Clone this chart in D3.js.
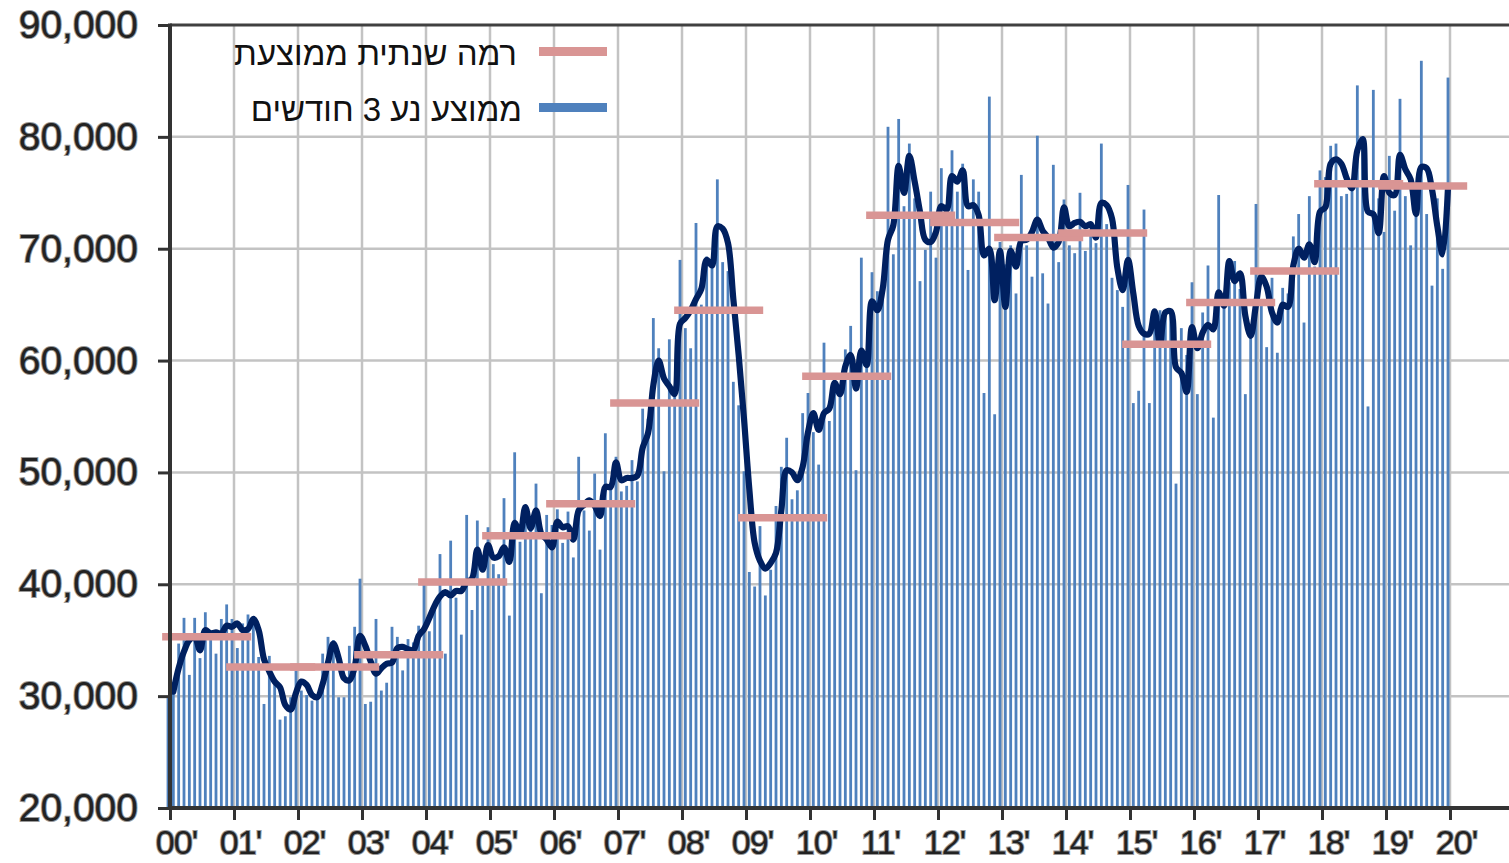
<!DOCTYPE html>
<html>
<head>
<meta charset="utf-8">
<script src="https://cdnjs.cloudflare.com/ajax/libs/d3/7.8.5/d3.min.js"></script>
<style>
    body { margin: 0; background: #fff; }
    svg text { font-family: "Liberation Sans", Arial, sans-serif; }
</style>
</head>
<body>
<svg id="chart" width="1509" height="863"></svg>
<script>

// year tick labels 2000..2020
var yearLabels = ["00'", "01'", "02'", "03'", "04'", "05'", "06'", "07'", "08'", "09'",
    "10'", "11'", "12'", "13'", "14'", "15'", "16'", "17'", "18'", "19'", "20'"];

// annual average level, 2000..2019
var annualAvg = [35300, 32600, 32600, 33700, 40200, 44350, 47200, 56200, 64500, 45950,
    58600, 73000, 72350, 71000, 71400, 61450, 65200, 68000, 75800, 75600];

// monthly values, Jan 2000 .. Jan 2020 (one row per year)
var monthly = [
    30000, 30400, 34700, 37000, 31900, 37000, 33400, 37500, 35900, 33800, 36900, 38200,
    36900, 34300, 36500, 37300, 36900, 33500, 29300, 33600, 31000, 27900, 28200, 29900,
    32300, 30500, 30100, 29600, 29900, 33800, 35300, 35000, 29900, 29900, 34500, 36200,
    40500, 29300, 29500, 36900, 30500, 31200, 36200, 35300, 32300, 35100, 34800, 36300,
    40000, 35800, 38400, 42700, 33800, 43900, 38800, 35500, 46200, 37700, 45700, 39900,
    45100, 41800, 40900, 47700, 37200, 51800, 43800, 45600, 44900, 49000, 39200, 46200,
    45300, 46700, 43700, 46500, 42400, 51400, 46600, 44800, 49900, 43100, 53500, 48800,
    51400, 48300, 48800, 51100, 49200, 55700, 54800, 63800, 61100, 50100, 61900, 57700,
    69000, 62900, 61100, 72300, 65000, 69300, 68500, 76200, 68800, 68000, 58100, 56000,
    50100, 41100, 39800, 45200, 39000, 41300, 47000, 50500, 53100, 47600, 48400, 55300,
    57100, 53600, 50700, 61600, 54600, 58500, 57000, 61000, 63100, 50200, 69200, 59500,
    67900, 66200, 65900, 80900, 69500, 81600, 73800, 79400, 74500, 67100, 69900, 75100,
    69200, 77200, 74000, 78800, 75100, 77600, 68100, 76200, 75100, 57100, 83600, 55200,
    70600, 68600, 70300, 66000, 76600, 70300, 67500, 80100, 67800, 65100, 77500, 68800,
    74400, 70300, 69600, 75000, 69800, 71700, 70500, 79400, 72200, 67400, 66300, 64800,
    75700, 56200, 57300, 73500, 56200, 64400, 64500, 64500, 64200, 49000, 62900, 60500,
    67000, 57000, 64300, 68500, 54900, 74800, 64900, 67000, 68900, 66400, 57000, 62500,
    74000, 65500, 61200, 67400, 60700, 66500, 66000, 71100, 73100, 63400, 74700, 68400,
    77000, 76400, 79200, 79400, 74700, 74900, 75300, 84600, 79300, 55900, 84200, 74500,
    71500, 78300, 73400, 83400, 74700, 70300, 74000, 86800, 73100, 66700, 74500, 68200,
    85300
];

// 3 month moving average, Feb 2000 .. Jan 2020
var movingAvg = [
    30400, 32500, 34000, 35000, 35300, 34100, 35900, 35600, 35700, 35600, 36300,
    36200, 36500, 35900, 36000, 36900, 35900, 33300, 32200, 31300, 30800, 29200, 28800,
    30300, 31300, 31000, 30100, 29900, 31100, 33000, 34700, 33400, 31600, 31400, 32600,
    35400, 34500, 33100, 32000, 32500, 32900, 33000, 34300, 34400, 34200, 34100, 35400,
    36000, 37000, 38100, 38900, 39300, 39000, 39400, 39400, 40200, 40500, 43100, 41300,
    43500, 42400, 42500, 43300, 42000, 45500, 44500, 46900, 45000, 46600, 44500, 44000,
    43300, 45600, 45100, 45200, 44000, 46600, 47100, 47500, 47000, 46100, 48700, 48700,
    50900, 49300, 49500, 49500, 49700, 52200, 53500, 57800, 60000, 58400, 57700, 57000,
    63300, 63800, 64500, 65500, 66400, 69000, 68500, 72000, 71800, 70500, 65500, 60500,
    54800, 48500, 43700, 42100, 41400, 41900, 42800, 46600, 50200, 50000, 49300, 50500,
    53600, 55300, 53800, 55300, 55700, 58000, 57000, 59500, 60500, 57500, 60900, 59600,
    65300, 64500, 66400, 70800, 72100, 77400, 75000, 78300, 76000, 73300, 70800, 70600,
    71500, 73800, 73500, 76500, 76000, 77000, 73800, 73900, 73000, 69400, 70000, 65400,
    69800, 64800, 69800, 68400, 70700, 70800, 71500, 72600, 71600, 71000, 70100, 70600,
    73700, 72000, 72300, 72400, 72000, 72200, 71000, 74100, 73900, 72700, 68300, 66300,
    69000, 66000, 63100, 62400, 62400, 64400, 61500, 64300, 64400, 59400, 58900, 57200,
    63000, 61100, 62500, 63200, 62800, 66100, 64900, 68900, 67100, 67800, 64000, 62200,
    65000, 67500, 66600, 64300, 63400, 65000, 64800, 68500, 70000, 69200, 70400, 68800,
    73300, 73700, 77600, 78000, 77600, 76300, 75400, 78800, 79800, 73300, 73100, 71400,
    76500, 75000, 74800, 78400, 77100, 76200, 73100, 77300, 77200, 75300, 72000, 69500,
    75500
];

var legendLabels = ["רמה שנתית ממוצעת", "ממוצע נע 3 חודשים"];
var yTicks = [20000, 30000, 40000, 50000, 60000, 70000, 80000, 90000];

// set the dimensions of the graph
var width = 1509,
    height = 863,
    plotLeft = 170,
    plotTop = 25,
    plotBottom = 808;

var svg = d3.select("#chart");

// set the ranges
var x = d3.scaleLinear().domain([0, 240]).range([168, 1448]);   // month index
var xYear = d3.scaleLinear().domain([0, 20]).range([170, 1450]); // year ticks
var y = d3.scaleLinear().domain([20000, 90000]).range([plotBottom, plotTop]);

// gridlines
svg.append("g")
    .selectAll("line")
    .data(yTicks.slice(1, -1))
    .join("line")
    .attr("x1", plotLeft)
    .attr("x2", width)
    .attr("y1", function(d) { return y(d); })
    .attr("y2", function(d) { return y(d); })
    .style("stroke", "#c3c3c3")
    .style("stroke-width", 2.5);

svg.append("g")
    .selectAll("line")
    .data(d3.range(1, 21))
    .join("line")
    .attr("x1", function(d) { return xYear(d); })
    .attr("x2", function(d) { return xYear(d); })
    .attr("y1", plotTop)
    .attr("y2", plotBottom)
    .style("stroke", "#c3c3c3")
    .style("stroke-width", 2.5);

// monthly bars
svg.append("g")
    .selectAll("rect")
    .data(monthly)
    .join("rect")
    .attr("x", function(d, i) { return x(i) - 1.4; })
    .attr("width", 2.8)
    .attr("y", function(d) { return y(d); })
    .attr("height", function(d) { return plotBottom - y(d); })
    .style("fill", "#4f81bd");

// moving average line
var valueline = d3.line()
    .x(function(d, i) { return x(i + 1); })
    .y(function(d) { return y(d); })
    .curve(d3.curveCatmullRom);

svg.append("path")
    .datum(movingAvg)
    .attr("d", valueline)
    .style("fill", "none")
    .style("stroke", "#002060")
    .style("stroke-width", 6.2)
    .style("stroke-linejoin", "round")
    .style("stroke-linecap", "round");

// annual average segments
svg.append("g")
    .selectAll("line")
    .data(annualAvg)
    .join("line")
    .attr("x1", function(d, k) { return x(12 * k - 1.1); })
    .attr("x2", function(d, k) { return x(12 * k + 15.6); })
    .attr("y1", function(d) { return y(d); })
    .attr("y2", function(d) { return y(d); })
    .style("stroke", "#d99594")
    .style("stroke-width", 7.5);

// frame: top border and axes
svg.append("line")
    .attr("x1", plotLeft).attr("x2", width)
    .attr("y1", plotTop).attr("y2", plotTop)
    .style("stroke", "#404040").style("stroke-width", 3);

var xAxis = svg.append("g")
    .attr("transform", "translate(0," + plotBottom + ")")
    .call(d3.axisBottom(xYear)
        .tickValues(d3.range(0, 21))
        .tickFormat(function(d) { return yearLabels[d]; })
        .tickSize(12)
        .tickPadding(10));

var yAxis = svg.append("g")
    .attr("transform", "translate(" + plotLeft + ",0)")
    .call(d3.axisLeft(y)
        .tickValues(yTicks)
        .tickFormat(d3.format(","))
        .tickSize(12)
        .tickPadding(20));

xAxis.select(".domain").remove();
yAxis.select(".domain").remove();

svg.append("line")
    .attr("x1", plotLeft - 2).attr("x2", width)
    .attr("y1", plotBottom).attr("y2", plotBottom)
    .style("stroke", "#333").style("stroke-width", 4);
svg.append("line")
    .attr("x1", plotLeft).attr("x2", plotLeft)
    .attr("y1", plotTop - 1.5).attr("y2", plotBottom + 2)
    .style("stroke", "#333").style("stroke-width", 4);

svg.selectAll(".tick line")
    .style("stroke", "#333")
    .style("stroke-width", 3);

svg.selectAll(".tick text")
    .style("fill", "#222")
    .style("stroke", "#999")
    .style("stroke-width", 2)
    .style("paint-order", "stroke");

xAxis.selectAll("text")
    .attr("x", 6)
    .style("font-size", "34px")
    .style("letter-spacing", "-1px");

yAxis.selectAll("text")
    .style("font-size", "39px");

// legend
var legendColors = ["#d99594", "#4f81bd"];
var legendY = [51.5, 107.5];
var legendTextX = [517, 522];

var legend = svg.append("g");
legendLabels.forEach(function(label, k) {
    legend.append("line")
        .attr("x1", 539).attr("x2", 607)
        .attr("y1", legendY[k]).attr("y2", legendY[k])
        .style("stroke", legendColors[k])
        .style("stroke-width", 9);
    legend.append("text")
        .attr("x", legendTextX[k])
        .attr("y", legendY[k] + 13)
        .attr("text-anchor", "end")
        .style("font-size", "33px")
        .style("fill", "#111")
        .text(label);
});

</script>
</body>
</html>
